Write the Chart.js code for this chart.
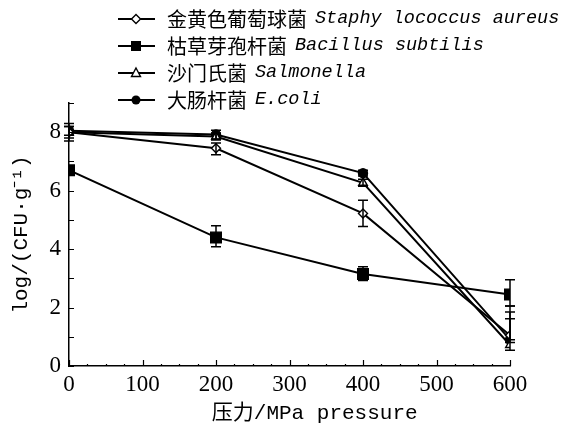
<!DOCTYPE html>
<html>
<head>
<meta charset="utf-8">
<script src="https://cdn.jsdelivr.net/npm/chart.js@4"></script>
<style>
  html, body { margin: 0; padding: 0; background: #fff; }
  #wrap { position: relative; width: 583px; height: 434px; }
  #legend { position: absolute; left: 118px; top: 5px; color: #000; }
  .row { display: flex; align-items: center; height: 27px; white-space: nowrap; }
  .row svg { margin-right: 12px; }
  .cn { font-family: 'Noto Sans CJK SC'; font-size: 20px; }
  .lat { font-family: 'Liberation Mono'; font-style: italic; font-size: 18.5px; margin-left: 8px; }
</style>
</head>
<body>
<div id="wrap">
  <canvas id="myChart" width="583" height="434"></canvas>
  <div id="legend"></div>
</div>
<script>
// x categories (MPa)
const pressure = [0, 200, 400, 600];

// series names
const cnNames = ['金黄色葡萄球菌', '枯草芽孢杆菌', '沙门氏菌', '大肠杆菌'];
const latNames = ['Staphy lococcus aureus', 'Bacillus subtilis', 'Salmonella', 'E.coli'];

// log(CFU/g) values
const staph = [8.0, 7.45, 5.22, 1.05];
const bacillus = [6.7, 4.4, 3.15, 2.45];
const salmonella = [8.0, 7.85, 6.27, 0.72];
const ecoli = [8.05, 7.92, 6.6, 0.9];

// error bars (upper / lower)
const staphHi = [0.3, 0.18, 0.45, 1.0];
const staphLo = [0.3, 0.22, 0.45, 0.15];
const bacillusHi = [0, 0.4, 0.25, 0.5];
const bacillusLo = [0, 0.32, 0.22, 0.4];
const salmonellaHi = [0.2, 0.12, 0.12, 0.9];
const salmonellaLo = [0.2, 0.12, 0.12, 0.18];
const ecoliHi = [0.15, 0.15, 0.1, 0.95];
const ecoliLo = [0.15, 0.15, 0.1, 0.1];

// y ticks with labels
const yLabels = [0, 2, 4, 6, 8];

const series = [
    { values: staph, hi: staphHi, lo: staphLo, style: 'rectRot', r: 4.5, fill: '#fff' },
    { values: bacillus, hi: bacillusHi, lo: bacillusLo, style: 'rect', r: 7.5, fill: '#000' },
    { values: salmonella, hi: salmonellaHi, lo: salmonellaLo, style: 'triangle', r: 5, fill: '#fff' },
    { values: ecoli, hi: ecoliHi, lo: ecoliLo, style: 'circle', r: 4.5, fill: '#000' }
];

// legend (html)
const legendEl = document.getElementById('legend');
const markerSvg = {
    rectRot: '<polygon points="18,2.5 22.5,7 18,11.5 13.5,7" fill="#fff" stroke="#000" stroke-width="1.4"/>',
    rect: '<rect x="13" y="2" width="10" height="10" fill="#000"/>',
    triangle: '<polygon points="18,2 22.5,10.5 13.5,10.5" fill="#fff" stroke="#000" stroke-width="1.4"/>',
    circle: '<circle cx="18" cy="7" r="4.5" fill="#000"/>'
};
series.forEach(function (s, i) {
    const row = document.createElement('div');
    row.className = 'row';
    row.innerHTML = '<svg width="37" height="14"><line x1="0" y1="7" x2="37" y2="7" stroke="#000" stroke-width="2"/>' +
        markerSvg[s.style] + '</svg><span class="cn">' + cnNames[i] + '</span><span class="lat">' + latNames[i] + '</span>';
    legendEl.appendChild(row);
});

// ticks drawn inward
const insideTicks = {
    id: 'insideTicks',
    afterDraw(chart) {
        const ctx = chart.ctx;
        const xs = chart.scales.x, ys = chart.scales.y;
        const left = chart.chartArea.left, bottom = chart.chartArea.bottom;
        ctx.save();
        ctx.strokeStyle = '#000';
        ctx.lineWidth = 1.2;
        ctx.beginPath();
        for (let v = 0; v <= 9; v++) {
            const y = Math.round(ys.getPixelForValue(v)) + 0.5;
            ctx.moveTo(left, y);
            ctx.lineTo(left + 5, y);
        }
        for (let v = 0; v <= 600; v += 25) {
            const x = Math.round(xs.getPixelForValue(v)) + 0.5;
            const len = v % 100 === 0 ? 6 : 2;
            ctx.moveTo(x, bottom);
            ctx.lineTo(x, bottom - len);
        }
        ctx.stroke();
        ctx.restore();
    }
};

// error bars
const errorBars = {
    id: 'errorBars',
    afterDatasetsDraw(chart) {
        const ctx = chart.ctx;
        const xs = chart.scales.x, ys = chart.scales.y;
        ctx.save();
        ctx.strokeStyle = '#000';
        ctx.lineWidth = 1.5;
        series.forEach(function (s) {
            for (let j = 0; j < pressure.length; j++) {
                if (!s.hi[j] && !s.lo[j]) continue;
                const x = xs.getPixelForValue(pressure[j]);
                const yTop = ys.getPixelForValue(s.values[j] + s.hi[j]);
                const yBot = ys.getPixelForValue(s.values[j] - s.lo[j]);
                ctx.beginPath();
                ctx.moveTo(x, yTop);
                ctx.lineTo(x, yBot);
                ctx.moveTo(x - 5, yTop);
                ctx.lineTo(x + 5, yTop);
                ctx.moveTo(x - 5, yBot);
                ctx.lineTo(x + 5, yBot);
                ctx.stroke();
            }
        });
        ctx.restore();
    }
};

const ctx = document.getElementById('myChart').getContext('2d');
new Chart(ctx, {
    type: 'line',
    data: {
        datasets: series.map(function (s, i) {
            return {
                label: cnNames[i],
                data: pressure.map(function (p, j) { return { x: p, y: s.values[j] }; }),
                borderColor: '#000',
                borderWidth: 2,
                pointStyle: s.style,
                pointRadius: s.r,
                pointBackgroundColor: s.fill,
                pointBorderColor: '#000',
                pointBorderWidth: 1.4,
                tension: 0
            };
        })
    },
    options: {
        responsive: false,
        animation: false,
        layout: { padding: { top: 103, right: 73, left: 0, bottom: 0 } },
        plugins: { legend: { display: false }, tooltip: { enabled: false } },
        scales: {
            x: {
                type: 'linear',
                min: 0,
                max: 600,
                afterFit: function (s) { s.height = 68; },
                ticks: {
                    stepSize: 100,
                    color: '#000',
                    padding: 5,
                    maxRotation: 0,
                    font: { family: 'Liberation Serif', size: 23 }
                },
                grid: { display: false, drawTicks: false },
                border: { display: true, color: '#000', width: 1.5 },
                title: {
                    display: true,
                    text: '    压力/MPa pressure',
                    color: '#000',
                    padding: { top: 0, bottom: 8 },
                    font: { family: "'Liberation Mono', 'Noto Sans CJK SC'", size: 21 }
                }
            },
            y: {
                min: 0,
                max: 9,
                afterFit: function (s) { s.width = 69; },
                ticks: {
                    stepSize: 1,
                    color: '#000',
                    padding: 8,
                    font: { family: 'Liberation Serif', size: 23 },
                    callback: function (v) { return yLabels.includes(v) ? String(v) : ''; }
                },
                grid: { display: false, drawTicks: false },
                border: { display: true, color: '#000', width: 1.5 },
                title: {
                    display: true,
                    text: 'log/(CFU·g⁻¹)',
                    color: '#000',
                    padding: { top: 9, bottom: 0 },
                    font: { family: "'Liberation Mono', 'Noto Sans CJK SC'", size: 21 }
                }
            }
        }
    },
    plugins: [insideTicks, errorBars]
});
</script>
</body>
</html>
